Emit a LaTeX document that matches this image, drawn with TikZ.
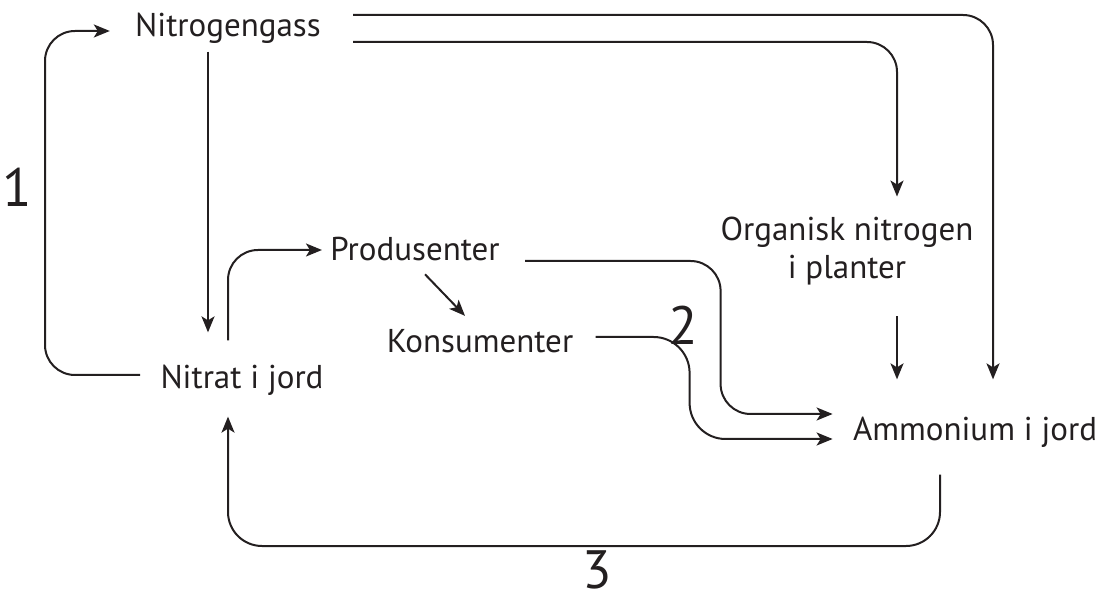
\documentclass[tikz,border=0pt]{standalone}
\usepackage{fontspec}
\setmainfont{PT Sans}
\usetikzlibrary{arrows.meta,calc}
\definecolor{FigureInk}{HTML}{231F20}

\begin{document}
\begin{tikzpicture}[x=0.5pt,y=-0.5pt,
  lbl/.style={inner sep=0pt,font=\fontsize{16.5}{19}\selectfont,text=FigureInk},
  num/.style={inner sep=0pt,font=\fontsize{27}{30}\selectfont,text=FigureInk},
  arr/.style={draw=FigureInk,line width=1pt,rounded corners=15pt,-{Stealth[length=8pt,width=6.5pt,inset=2pt]}}]
  \useasboundingbox (0,0) rectangle (1112,603);
  % stations of the cycle
  \node[lbl] (gass) at (228,28) {Nitrogengass};
  \node[lbl] (nitrat) at (242,380) {Nitrat i jord};
  \node[lbl] (prod) at (415,249) {Produsenter};
  \node[lbl] (kons) at (480,341) {Konsumenter};
  \node[lbl,align=center] (org) at (847,251) {Organisk nitrogen\\i planter};
  \node[lbl] (amm) at (975,432) {Ammonium i jord};
  \node[num] (n1) at (17,187) {1}; \node[num] (n2) at (683,325) {2}; \node[num] (n3) at (597,570) {3};
  % arrows
  \draw[arr] ($(nitrat.west)+(-20,-5)$) -| (45,200) |- ($(gass.west)+(-25,3)$);
  \draw[arr] ($(gass.south)+(-20,8)$) -- ($(nitrat.north)+(-34,-32)$);
  \draw[arr] ($(nitrat.north)+(-14,-24)$) |- ($(prod.west)+(-8,1)$);
  \draw[arr] ($(prod.south)+(10,13)$) -- ($(kons.north)+(-15,-13)$);
  \draw[arr] ($(prod.east)+(25,12)$) -| ($(amm.west)+(-132,-18)$) -- ($(amm.west)+(-20,-18)$);
  \draw[arr,rounded corners=18pt] ($(kons.east)+(22,-4)$) -| ($(amm.west)+(-163,7)$) -- ($(amm.west)+(-20,7)$);
  \draw[arr] ($(gass.east)+(32,-13)$) -| ($(amm.north)+(18,-37)$);
  \draw[arr] ($(gass.east)+(32,14)$) -| ($(org.north)+(50,-20)$);
  \draw[arr] ($(org.south)+(50,31)$) -- ($(amm.north)+(-78,-37)$);
  \draw[arr,rounded corners=17pt] ($(amm.south)+(-35,27)$) |- (600,546) -| ($(nitrat.south)+(-14,21)$);
\end{tikzpicture}
\end{document}
